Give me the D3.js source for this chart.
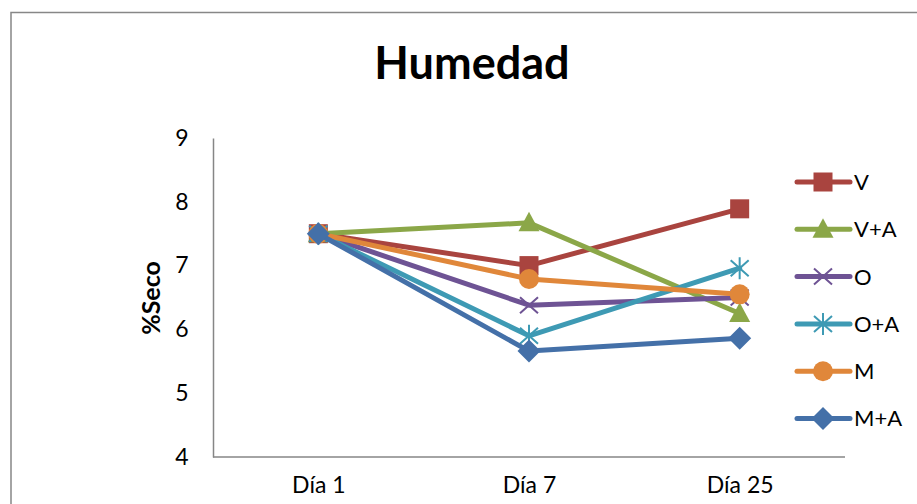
<!DOCTYPE html>
<html><head><meta charset="utf-8">
<script src="https://cdn.jsdelivr.net/npm/d3@7"></script>
<style>body{margin:0;background:#fff}svg{display:block}text{font-family:Lato,"Open Sans",sans-serif}</style>
</head><body><svg id="c" width="917" height="504"></svg>
<script>
const categories = ["Día 1", "Día 7", "Día 25"];
const seriesNames = ["V", "V+A", "O", "O+A", "M", "M+A"];
const V   = [7.5, 7.0, 7.89];
const VA  = [7.5, 7.67, 6.25];
const O   = [7.5, 6.38, 6.5];
const OA  = [7.5, 5.9, 6.96];
const M   = [7.5, 6.79, 6.55];
const MA  = [7.5, 5.66, 5.86];
const yTicks = [4, 5, 6, 7, 8, 9];
const colors = ["#A9443F", "#8BA748", "#6E5394", "#3E9AB4", "#E0873A", "#4470A8"];
const symbols = ["square", "triangle", "x", "asterisk", "circle", "diamond"];
const values = [V, VA, O, OA, M, MA];

const svg = d3.select("#c");
svg.append("rect").attr("x", 11).attr("y", 12.5).attr("width", 920).attr("height", 520)
  .attr("fill", "#fff").attr("stroke", "#878787").attr("stroke-width", 1.5);

const pL = 213, pR = 845, pT = 138, pB = 457;
const x = d3.scalePoint().domain(categories).range([pL, pR]).padding(0.5);
const y = d3.scaleLinear().domain([4, 9]).range([pB, pT]);

const yAxis = svg.append("g").attr("transform", `translate(${pL},0)`)
  .call(d3.axisLeft(y).tickValues(yTicks).tickFormat(d3.format("d")).tickSize(0).tickPadding(24));
yAxis.select(".domain").attr("stroke", "#868686").attr("stroke-width", 1.5);
yAxis.selectAll("text").attr("font-size", 23).attr("fill", "#000").attr("text-anchor", "middle").attr("dx", -7);

const xAxis = svg.append("g").attr("transform", `translate(0,${pB})`)
  .call(d3.axisBottom(x).tickSize(0).tickPadding(16));
xAxis.select(".domain").attr("stroke", "#868686").attr("stroke-width", 1.5).attr("d", `M${pL},0H${pR}`);
xAxis.selectAll("text").attr("font-size", 23).attr("fill", "#000").attr("dy", "0.85em");

svg.append("text").attr("x", 472).attr("y", 79).attr("text-anchor", "middle")
  .attr("font-size", 45).attr("font-weight", "bold").text("Humedad");
svg.append("text").attr("transform", "translate(160,298) rotate(-90)").attr("text-anchor", "middle")
  .attr("font-size", 25).attr("font-weight", "bold").text("%Seco");

function drawMarker(g, sym, color, cx, cy) {
  const s = 9.5;
  if (sym === "square") {
    g.append("rect").attr("x", cx - s).attr("y", cy - s).attr("width", 2 * s).attr("height", 2 * s).attr("fill", color);
  } else if (sym === "triangle") {
    g.append("path").attr("d", `M${cx},${cy - 11}L${cx + 10.5},${cy + 8.5}L${cx - 10.5},${cy + 8.5}Z`).attr("fill", color);
  } else if (sym === "circle") {
    g.append("circle").attr("cx", cx).attr("cy", cy).attr("r", 10).attr("fill", color);
  } else if (sym === "diamond") {
    g.append("path").attr("d", `M${cx},${cy - 11.5}L${cx + 11.5},${cy}L${cx},${cy + 11.5}L${cx - 11.5},${cy}Z`).attr("fill", color);
  } else if (sym === "x") {
    g.append("path").attr("d", `M${cx - 9},${cy - 8}L${cx + 9},${cy + 8}M${cx - 9},${cy + 8}L${cx + 9},${cy - 8}`)
      .attr("stroke", color).attr("stroke-width", 2).attr("fill", "none");
  } else if (sym === "asterisk") {
    g.append("path").attr("d", `M${cx - 9},${cy - 8}L${cx + 9},${cy + 8}M${cx - 9},${cy + 8}L${cx + 9},${cy - 8}M${cx},${cy - 11}L${cx},${cy + 11}`)
      .attr("stroke", color).attr("stroke-width", 2).attr("fill", "none");
  }
}

const line = d3.line().x((d, i) => x(categories[i])).y(d => y(d));
const plot = svg.append("g");
values.forEach((vals, k) => {
  const g = plot.append("g");
  g.append("path").attr("d", line(vals)).attr("fill", "none").attr("stroke", colors[k])
    .attr("stroke-width", 5).attr("stroke-linejoin", "round").attr("stroke-linecap", "round");
  vals.forEach((v, i) => drawMarker(g, symbols[k], colors[k], x(categories[i]), y(v)));
});

const lg = svg.append("g");
seriesNames.forEach((n, k) => {
  const ly = 182 + k * 47.3;
  lg.append("line").attr("x1", 797).attr("x2", 850).attr("y1", ly).attr("y2", ly)
    .attr("stroke", colors[k]).attr("stroke-width", 5).attr("stroke-linecap", "round");
  drawMarker(lg, symbols[k], colors[k], 823, ly);
  lg.append("text").attr("x", 854).attr("y", ly).attr("dy", "0.36em").attr("font-size", 22).text(n);
});
</script></body></html>
